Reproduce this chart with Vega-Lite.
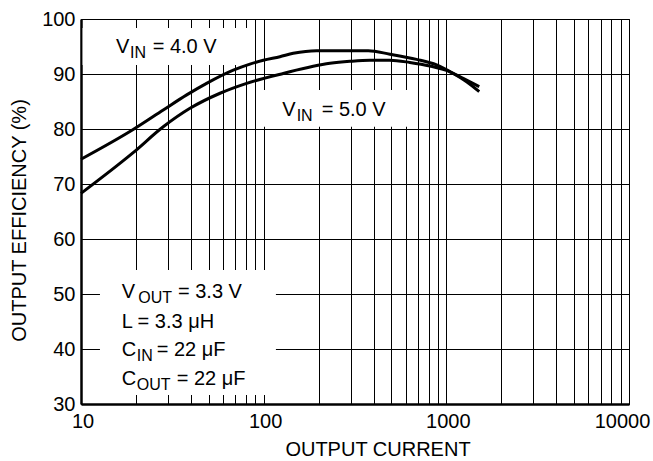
{
  "$schema": "https://vega.github.io/schema/vega-lite/v6.json",
  "width": 548,
  "height": 385,
  "autosize": "none",
  "padding": {"left": 81, "top": 19, "right": 24, "bottom": 57},
  "background": "white",
  "config": {
    "view": {"stroke": "black", "strokeWidth": 1},
    "font": "Liberation Sans"
  },
  "encoding": {
    "x": {
      "field": "current",
      "type": "quantitative",
      "scale": {"type": "log", "domain": [10, 10000], "nice": false},
      "axis": {
        "title": "OUTPUT CURRENT",
        "values": [10, 20, 30, 40, 50, 60, 70, 80, 90, 100, 200, 300, 400, 500, 600, 700, 800, 900, 1000, 2000, 3000, 4000, 5000, 6000, 7000, 8000, 9000, 10000],
        "labelExpr": "indexof([10, 100, 1000, 10000], datum.value) >= 0 ? '' + datum.value : ''",
        "labelOverlap": false,
        "labelFlush": false,
        "ticks": false,
        "grid": true,
        "gridColor": "black",
        "gridWidth": 1,
        "gridOpacity": 1,
        "domainColor": "black",
        "domainWidth": 2.5,
        "labelFont": "Liberation Sans",
        "labelFontSize": 20,
        "labelColor": "black",
        "labelPadding": 7,
        "labelOffset": {"condition": {"test": "datum.value == 10000", "value": -7}, "value": 1.5},
        "titleFont": "Liberation Sans",
        "titleFontSize": 20,
        "titleFontWeight": "normal",
        "titleColor": "black",
        "titleX": 296.5,
        "titleY": 51.5,
        "titleAlign": "center",
        "titleBaseline": "alphabetic"
      }
    },
    "y": {
      "field": "eff",
      "type": "quantitative",
      "scale": {"domain": [30, 100], "nice": false, "zero": false},
      "axis": {
        "title": "OUTPUT EFFICIENCY (%)",
        "values": [30, 40, 50, 60, 70, 80, 90, 100],
        "ticks": false,
        "grid": true,
        "gridColor": "black",
        "gridWidth": 1,
        "gridOpacity": 1,
        "domainColor": "black",
        "domainWidth": 2.5,
        "labelFont": "Liberation Sans",
        "labelFontSize": 20,
        "labelColor": "black",
        "labelPadding": 6,
        "titleFont": "Liberation Sans",
        "titleFontSize": 20,
        "titleFontWeight": "normal",
        "titleColor": "black",
        "titleX": -56,
        "titleY": 201,
        "titleAngle": -90,
        "titleAlign": "center",
        "titleBaseline": "alphabetic"
      }
    }
  },
  "layer": [
    {
      "data": {"values": [
        {"current": 10.2, "current2": 84.1, "eff": 91.64, "eff2": 98.36},
        {"current": 95.4, "current2": 632, "eff": 80.42, "eff2": 87.09},
        {"current": 12.7, "current2": 116.7, "eff": 31.64, "eff2": 54.36}
      ]},
      "mark": {"type": "rect", "fill": "white", "stroke": null},
      "encoding": {
        "x2": {"field": "current2"},
        "y2": {"field": "eff2"}
      }
    },
    {
      "data": {"values": [
        {"vin": "4.0 V", "current": 10, "eff": 74.5},
        {"vin": "4.0 V", "current": 19.3, "eff": 79.9},
        {"vin": "4.0 V", "current": 28.2, "eff": 83.45},
        {"vin": "4.0 V", "current": 37.9, "eff": 86.2},
        {"vin": "4.0 V", "current": 48.7, "eff": 88.3},
        {"vin": "4.0 V", "current": 68.2, "eff": 90.7},
        {"vin": "4.0 V", "current": 84.1, "eff": 91.8},
        {"vin": "4.0 V", "current": 99.5, "eff": 92.5},
        {"vin": "4.0 V", "current": 122.7, "eff": 93.15},
        {"vin": "4.0 V", "current": 145.2, "eff": 93.76},
        {"vin": "4.0 V", "current": 195, "eff": 94.24},
        {"vin": "4.0 V", "current": 374, "eff": 94.24},
        {"vin": "4.0 V", "current": 491, "eff": 93.6},
        {"vin": "4.0 V", "current": 687, "eff": 92.66},
        {"vin": "4.0 V", "current": 885, "eff": 91.64},
        {"vin": "4.0 V", "current": 1091, "eff": 90.1},
        {"vin": "4.0 V", "current": 1291, "eff": 88.6},
        {"vin": "4.0 V", "current": 1514, "eff": 86.8},
        {"vin": "5.0 V", "current": 10, "eff": 68.3},
        {"vin": "5.0 V", "current": 19.3, "eff": 75.7},
        {"vin": "5.0 V", "current": 28.2, "eff": 80.4},
        {"vin": "5.0 V", "current": 39.5, "eff": 83.76},
        {"vin": "5.0 V", "current": 57.7, "eff": 86.5},
        {"vin": "5.0 V", "current": 80.7, "eff": 88.3},
        {"vin": "5.0 V", "current": 128, "eff": 90.1},
        {"vin": "5.0 V", "current": 230.6, "eff": 91.94},
        {"vin": "5.0 V", "current": 296.6, "eff": 92.3},
        {"vin": "5.0 V", "current": 381.6, "eff": 92.5},
        {"vin": "5.0 V", "current": 491, "eff": 92.5},
        {"vin": "5.0 V", "current": 631, "eff": 92.1},
        {"vin": "5.0 V", "current": 813, "eff": 91.45},
        {"vin": "5.0 V", "current": 1046, "eff": 90.4},
        {"vin": "5.0 V", "current": 1237, "eff": 89.2},
        {"vin": "5.0 V", "current": 1514, "eff": 87.7}
      ]},
      "mark": {"type": "line", "color": "black", "strokeWidth": 3, "interpolate": "monotone"},
      "encoding": {
        "detail": {"field": "vin", "type": "nominal"}
      }
    },
    {
      "data": {"name": "labels", "values": [
        {"role": "main", "t": "V", "current": 15.55, "eff": 93.76},
        {"role": "sub", "t": "IN", "current": 18.54, "eff": 93.76},
        {"role": "main", "t": "= 4.0 V", "current": 24.69, "eff": 93.76},
        {"role": "main", "t": "V", "current": 126.4, "eff": 82.42},
        {"role": "sub", "t": "IN", "current": 151.6, "eff": 82.42},
        {"role": "main", "t": "= 5.0 V", "current": 207.7, "eff": 82.42},
        {"role": "main", "t": "V", "current": 16.7, "eff": 49.33},
        {"role": "sub", "t": "OUT", "current": 20.59, "eff": 49.33},
        {"role": "main", "t": "= 3.3 V", "current": 33.96, "eff": 49.33},
        {"role": "main", "t": "L = 3.3 μH", "current": 16.7, "eff": 43.87},
        {"role": "main", "t": "C", "current": 16.7, "eff": 38.73},
        {"role": "sub", "t": "IN", "current": 20.18, "eff": 38.73},
        {"role": "main", "t": "= 22 μF", "current": 25.96, "eff": 38.73},
        {"role": "main", "t": "C", "current": 16.7, "eff": 33.45},
        {"role": "sub", "t": "OUT", "current": 20.18, "eff": 33.45},
        {"role": "main", "t": "= 22 μF", "current": 33.41, "eff": 33.45}
      ]},
      "transform": [{"filter": "datum.role == 'main'"}],
      "mark": {"type": "text", "align": "left", "baseline": "alphabetic", "fontSize": 20, "font": "Liberation Sans", "color": "black"},
      "encoding": {
        "text": {"field": "t", "type": "nominal"}
      }
    },
    {
      "data": {"name": "labels"},
      "transform": [{"filter": "datum.role == 'sub'"}],
      "mark": {"type": "text", "align": "left", "baseline": "alphabetic", "fontSize": 16, "dy": 5, "font": "Liberation Sans", "color": "black"},
      "encoding": {
        "text": {"field": "t", "type": "nominal"}
      }
    }
  ]
}
